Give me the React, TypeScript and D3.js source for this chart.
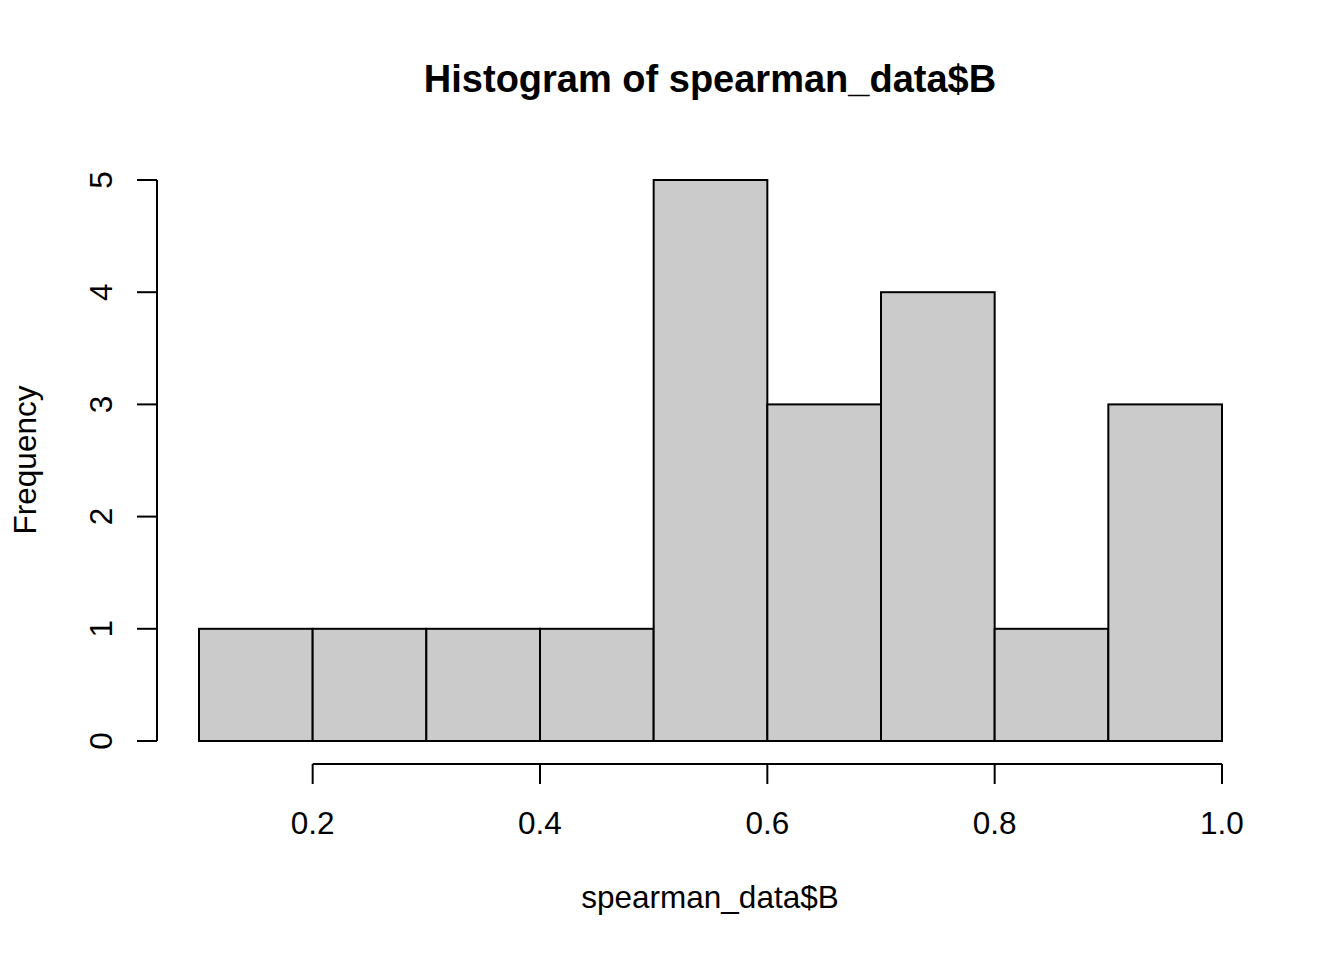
import React from "react";
import * as d3 from "d3";

const binEdges = [0.1, 0.2, 0.3, 0.4, 0.5, 0.6, 0.7, 0.8, 0.9, 1.0];
const counts = [1, 1, 1, 1, 5, 3, 4, 1, 3];
const xTicks = [0.2, 0.4, 0.6, 0.8, 1.0];
const yTicks = [0, 1, 2, 3, 4, 5];
const title = "Histogram of spearman_data$B";
const xLabel = "spearman_data$B";
const yLabel = "Frequency";

export default function App() {
  const W = 1344, H = 960;
  const x = d3.scaleLinear().domain([0.1, 1.0]).range([199, 1222]);
  const y = d3.scaleLinear().domain([0, 5]).range([741, 180]);
  const font = "Liberation Sans, Arial, Helvetica, sans-serif";
  const axisY = 764;
  const axisX = 157;
  return (
    <svg width={W} height={H} style={{ position: "absolute", left: 0, top: 0, background: "#fff" }} fontFamily={font}>
      <rect x={0} y={0} width={W} height={H} fill="#fff" />
      <text x={710} y={92} textAnchor="middle" fontWeight="bold" fontSize={38}>{title}</text>
      {counts.map((c, i) => (
        <rect key={i} x={x(binEdges[i])} y={y(c)} width={x(binEdges[i + 1]) - x(binEdges[i])} height={y(0) - y(c)}
          fill="#CBCBCB" stroke="#000" strokeWidth={2} />
      ))}
      {/* x axis */}
      <line x1={x(xTicks[0])} x2={x(xTicks[xTicks.length - 1])} y1={axisY} y2={axisY} stroke="#000" strokeWidth={2} />
      {xTicks.map((t) => (
        <g key={t}>
          <line x1={x(t)} x2={x(t)} y1={axisY} y2={axisY + 20} stroke="#000" strokeWidth={2} />
          <text x={x(t)} y={834} textAnchor="middle" fontSize={31.5}>{t.toFixed(1)}</text>
        </g>
      ))}
      {/* y axis */}
      <line x1={axisX} x2={axisX} y1={y(0)} y2={y(5)} stroke="#000" strokeWidth={2} />
      {yTicks.map((t) => (
        <g key={t}>
          <line x1={axisX - 20} x2={axisX} y1={y(t)} y2={y(t)} stroke="#000" strokeWidth={2} />
          <text transform={`translate(112,${y(t)}) rotate(-90)`} textAnchor="middle" fontSize={31.5}>{t}</text>
        </g>
      ))}
      <text x={710} y={908} textAnchor="middle" fontSize={31.5}>{xLabel}</text>
      <text transform={`translate(36,460) rotate(-90)`} textAnchor="middle" fontSize={31.5}>{yLabel}</text>
    </svg>
  );
}
